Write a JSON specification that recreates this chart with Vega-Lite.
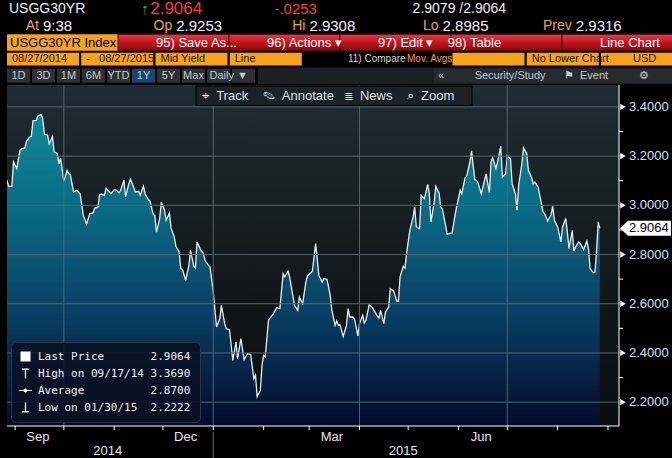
{
  "$schema": "https://vega.github.io/schema/vega-lite/v6.json",
  "background": "#000000",
  "padding": {"left": 6, "top": 0, "right": 0, "bottom": 0},
  "spacing": 0,
  "config": {
    "view": {"stroke": null},
    "font": "Liberation Sans",
    "legend": {"labelFont": "DejaVu Sans Mono"}
  },
  "resolve": {"scale": {"shape": "independent", "color": "independent", "fill": "independent"}, "legend": {"shape": "independent"}},
  "datasets": {
    "series": [
      {"date": "2014-08-27", "v": 3.102}, {"date": "2014-08-28", "v": 3.077}, {"date": "2014-08-30", "v": 3.077}, {"date": "2014-08-31", "v": 3.176},
      {"date": "2014-09-02", "v": 3.149}, {"date": "2014-09-04", "v": 3.224}, {"date": "2014-09-05", "v": 3.230}, {"date": "2014-09-07", "v": 3.233},
      {"date": "2014-09-08", "v": 3.260}, {"date": "2014-09-10", "v": 3.278}, {"date": "2014-09-11", "v": 3.280}, {"date": "2014-09-12", "v": 3.343},
      {"date": "2014-09-14", "v": 3.345}, {"date": "2014-09-15", "v": 3.363}, {"date": "2014-09-17", "v": 3.369}, {"date": "2014-09-18", "v": 3.352},
      {"date": "2014-09-19", "v": 3.289}, {"date": "2014-09-21", "v": 3.285}, {"date": "2014-09-22", "v": 3.250}, {"date": "2014-09-24", "v": 3.280},
      {"date": "2014-09-25", "v": 3.217}, {"date": "2014-09-27", "v": 3.210}, {"date": "2014-09-28", "v": 3.169}, {"date": "2014-09-29", "v": 3.192},
      {"date": "2014-10-01", "v": 3.098}, {"date": "2014-10-03", "v": 3.142}, {"date": "2014-10-04", "v": 3.128}, {"date": "2014-10-05", "v": 3.124},
      {"date": "2014-10-07", "v": 3.054}, {"date": "2014-10-09", "v": 3.061}, {"date": "2014-10-11", "v": 3.047}, {"date": "2014-10-13", "v": 2.959},
      {"date": "2014-10-15", "v": 2.923}, {"date": "2014-10-16", "v": 2.946}, {"date": "2014-10-17", "v": 2.966}, {"date": "2014-10-19", "v": 2.969},
      {"date": "2014-10-20", "v": 2.989}, {"date": "2014-10-22", "v": 2.993}, {"date": "2014-10-23", "v": 3.043}, {"date": "2014-10-24", "v": 3.045},
      {"date": "2014-10-26", "v": 3.041}, {"date": "2014-10-27", "v": 3.070}, {"date": "2014-10-30", "v": 3.047}, {"date": "2014-11-01", "v": 3.063},
      {"date": "2014-11-02", "v": 3.063}, {"date": "2014-11-04", "v": 3.051}, {"date": "2014-11-05", "v": 3.061}, {"date": "2014-11-07", "v": 3.102},
      {"date": "2014-11-08", "v": 3.034}, {"date": "2014-11-10", "v": 3.088}, {"date": "2014-11-11", "v": 3.106}, {"date": "2014-11-13", "v": 3.074},
      {"date": "2014-11-14", "v": 3.054}, {"date": "2014-11-16", "v": 3.057}, {"date": "2014-11-17", "v": 3.041}, {"date": "2014-11-19", "v": 3.078},
      {"date": "2014-11-20", "v": 3.047}, {"date": "2014-11-22", "v": 3.023}, {"date": "2014-11-23", "v": 3.017}, {"date": "2014-11-25", "v": 2.963},
      {"date": "2014-11-26", "v": 2.959}, {"date": "2014-11-27", "v": 2.891}, {"date": "2014-11-29", "v": 2.946}, {"date": "2014-11-30", "v": 3.013},
      {"date": "2014-12-02", "v": 2.980}, {"date": "2014-12-03", "v": 2.939}, {"date": "2014-12-05", "v": 2.969}, {"date": "2014-12-06", "v": 2.908},
      {"date": "2014-12-08", "v": 2.871}, {"date": "2014-12-09", "v": 2.833}, {"date": "2014-12-11", "v": 2.810}, {"date": "2014-12-12", "v": 2.742},
      {"date": "2014-12-13", "v": 2.740}, {"date": "2014-12-15", "v": 2.695}, {"date": "2014-12-17", "v": 2.756}, {"date": "2014-12-18", "v": 2.817},
      {"date": "2014-12-20", "v": 2.752}, {"date": "2014-12-21", "v": 2.745}, {"date": "2014-12-22", "v": 2.851}, {"date": "2014-12-24", "v": 2.822},
      {"date": "2014-12-26", "v": 2.803}, {"date": "2014-12-27", "v": 2.775}, {"date": "2014-12-29", "v": 2.756}, {"date": "2014-12-30", "v": 2.749},
      {"date": "2015-01-01", "v": 2.648}, {"date": "2015-01-03", "v": 2.505}, {"date": "2015-01-05", "v": 2.539}, {"date": "2015-01-06", "v": 2.593},
      {"date": "2015-01-08", "v": 2.519}, {"date": "2015-01-09", "v": 2.498}, {"date": "2015-01-11", "v": 2.494}, {"date": "2015-01-13", "v": 2.370},
      {"date": "2015-01-15", "v": 2.444}, {"date": "2015-01-16", "v": 2.376}, {"date": "2015-01-18", "v": 2.458}, {"date": "2015-01-20", "v": 2.372},
      {"date": "2015-01-22", "v": 2.397}, {"date": "2015-01-24", "v": 2.394}, {"date": "2015-01-26", "v": 2.295}, {"date": "2015-01-27", "v": 2.309},
      {"date": "2015-01-28", "v": 2.2222}, {"date": "2015-01-30", "v": 2.248}, {"date": "2015-01-31", "v": 2.350}, {"date": "2015-02-01", "v": 2.390},
      {"date": "2015-02-02", "v": 2.383}, {"date": "2015-02-04", "v": 2.533}, {"date": "2015-02-07", "v": 2.559}, {"date": "2015-02-09", "v": 2.584},
      {"date": "2015-02-11", "v": 2.580}, {"date": "2015-02-13", "v": 2.722}, {"date": "2015-02-14", "v": 2.709}, {"date": "2015-02-16", "v": 2.732},
      {"date": "2015-02-17", "v": 2.709}, {"date": "2015-02-20", "v": 2.593}, {"date": "2015-02-22", "v": 2.573}, {"date": "2015-02-23", "v": 2.627},
      {"date": "2015-02-25", "v": 2.600}, {"date": "2015-02-27", "v": 2.688}, {"date": "2015-02-28", "v": 2.713}, {"date": "2015-03-03", "v": 2.732},
      {"date": "2015-03-05", "v": 2.844}, {"date": "2015-03-06", "v": 2.783}, {"date": "2015-03-07", "v": 2.715}, {"date": "2015-03-09", "v": 2.688},
      {"date": "2015-03-10", "v": 2.702}, {"date": "2015-03-12", "v": 2.699}, {"date": "2015-03-14", "v": 2.634}, {"date": "2015-03-15", "v": 2.573},
      {"date": "2015-03-17", "v": 2.512}, {"date": "2015-03-18", "v": 2.530}, {"date": "2015-03-19", "v": 2.512}, {"date": "2015-03-20", "v": 2.515},
      {"date": "2015-03-22", "v": 2.467}, {"date": "2015-03-24", "v": 2.512}, {"date": "2015-03-25", "v": 2.580}, {"date": "2015-03-26", "v": 2.546},
      {"date": "2015-03-28", "v": 2.546}, {"date": "2015-03-29", "v": 2.537}, {"date": "2015-03-31", "v": 2.469}, {"date": "2015-04-01", "v": 2.519},
      {"date": "2015-04-03", "v": 2.553}, {"date": "2015-04-04", "v": 2.522}, {"date": "2015-04-05", "v": 2.533}, {"date": "2015-04-07", "v": 2.596},
      {"date": "2015-04-09", "v": 2.584}, {"date": "2015-04-10", "v": 2.573}, {"date": "2015-04-12", "v": 2.550}, {"date": "2015-04-13", "v": 2.542},
      {"date": "2015-04-14", "v": 2.573}, {"date": "2015-04-16", "v": 2.519}, {"date": "2015-04-17", "v": 2.566}, {"date": "2015-04-19", "v": 2.587},
      {"date": "2015-04-20", "v": 2.661}, {"date": "2015-04-22", "v": 2.652}, {"date": "2015-04-24", "v": 2.610}, {"date": "2015-04-25", "v": 2.610},
      {"date": "2015-04-26", "v": 2.709}, {"date": "2015-04-28", "v": 2.753}, {"date": "2015-04-29", "v": 2.745}, {"date": "2015-04-30", "v": 2.803},
      {"date": "2015-05-02", "v": 2.898}, {"date": "2015-05-04", "v": 2.952}, {"date": "2015-05-05", "v": 2.993}, {"date": "2015-05-06", "v": 2.912},
      {"date": "2015-05-08", "v": 2.905}, {"date": "2015-05-09", "v": 3.041}, {"date": "2015-05-11", "v": 3.027}, {"date": "2015-05-13", "v": 3.085},
      {"date": "2015-05-14", "v": 3.047}, {"date": "2015-05-15", "v": 2.932}, {"date": "2015-05-17", "v": 3.013}, {"date": "2015-05-18", "v": 3.077},
      {"date": "2015-05-20", "v": 3.050}, {"date": "2015-05-21", "v": 2.993}, {"date": "2015-05-22", "v": 2.986}, {"date": "2015-05-24", "v": 2.919},
      {"date": "2015-05-25", "v": 2.882}, {"date": "2015-05-27", "v": 2.887}, {"date": "2015-05-28", "v": 2.887}, {"date": "2015-05-30", "v": 2.966},
      {"date": "2015-06-02", "v": 3.061}, {"date": "2015-06-03", "v": 3.047}, {"date": "2015-06-05", "v": 3.112}, {"date": "2015-06-06", "v": 3.118},
      {"date": "2015-06-08", "v": 3.176}, {"date": "2015-06-09", "v": 3.221}, {"date": "2015-06-11", "v": 3.104}, {"date": "2015-06-12", "v": 3.102},
      {"date": "2015-06-13", "v": 3.091}, {"date": "2015-06-15", "v": 3.047}, {"date": "2015-06-17", "v": 3.102}, {"date": "2015-06-18", "v": 3.128},
      {"date": "2015-06-20", "v": 3.050}, {"date": "2015-06-21", "v": 3.176}, {"date": "2015-06-22", "v": 3.194}, {"date": "2015-06-24", "v": 3.149},
      {"date": "2015-06-25", "v": 3.176}, {"date": "2015-06-27", "v": 3.240}, {"date": "2015-06-28", "v": 3.115}, {"date": "2015-06-30", "v": 3.128},
      {"date": "2015-07-01", "v": 3.203}, {"date": "2015-07-03", "v": 3.187}, {"date": "2015-07-04", "v": 3.088}, {"date": "2015-07-06", "v": 3.047},
      {"date": "2015-07-07", "v": 2.980}, {"date": "2015-07-08", "v": 3.081}, {"date": "2015-07-10", "v": 3.169}, {"date": "2015-07-11", "v": 3.234},
      {"date": "2015-07-13", "v": 3.210}, {"date": "2015-07-14", "v": 3.142}, {"date": "2015-07-16", "v": 3.112}, {"date": "2015-07-17", "v": 3.088},
      {"date": "2015-07-18", "v": 3.095}, {"date": "2015-07-20", "v": 3.074}, {"date": "2015-07-21", "v": 3.041}, {"date": "2015-07-23", "v": 2.973},
      {"date": "2015-07-24", "v": 2.966}, {"date": "2015-07-26", "v": 2.936}, {"date": "2015-07-28", "v": 2.963}, {"date": "2015-07-29", "v": 2.996},
      {"date": "2015-07-30", "v": 2.939}, {"date": "2015-08-01", "v": 2.912}, {"date": "2015-08-03", "v": 2.851}, {"date": "2015-08-04", "v": 2.912},
      {"date": "2015-08-06", "v": 2.946}, {"date": "2015-08-07", "v": 2.891}, {"date": "2015-08-08", "v": 2.824}, {"date": "2015-08-10", "v": 2.898},
      {"date": "2015-08-11", "v": 2.814}, {"date": "2015-08-12", "v": 2.830}, {"date": "2015-08-14", "v": 2.851}, {"date": "2015-08-15", "v": 2.844},
      {"date": "2015-08-17", "v": 2.820}, {"date": "2015-08-19", "v": 2.855}, {"date": "2015-08-20", "v": 2.824}, {"date": "2015-08-21", "v": 2.742},
      {"date": "2015-08-23", "v": 2.726}, {"date": "2015-08-24", "v": 2.729}, {"date": "2015-08-25", "v": 2.817}, {"date": "2015-08-26", "v": 2.932},
      {"date": "2015-08-27", "v": 2.9064}
    ],
    "stats": [
      {"stat": "Last Price", "value": 2.9064, "date": "2015-08-27"},
      {"stat": "High on 09/17/14", "value": 3.369, "date": "2014-09-17"},
      {"stat": "Average", "value": 2.87, "date": null},
      {"stat": "Low on 01/30/15", "value": 2.2222, "date": "2015-01-30"}
    ],
    "yticks": [{"v": 2.2}, {"v": 2.4}, {"v": 2.6}, {"v": 2.8}, {"v": 3.0}, {"v": 3.2}, {"v": 3.4}],
    "yminor": [{"v": 2.3}, {"v": 2.5}, {"v": 2.7}, {"v": 2.9}, {"v": 3.1}, {"v": 3.3}],
    "xgrid": [{"date": "2014-10-01"}, {"date": "2015-01-01"}, {"date": "2015-04-01"}, {"date": "2015-07-01"}],
    "mticks": [
      {"date": "2014-09-01"}, {"date": "2014-10-01"}, {"date": "2014-11-01"}, {"date": "2014-12-01"}, {"date": "2015-01-01"}, {"date": "2015-02-01"},
      {"date": "2015-03-01"}, {"date": "2015-04-01"}, {"date": "2015-05-01"}, {"date": "2015-06-01"}, {"date": "2015-07-01"}, {"date": "2015-08-01"}, {"date": "2015-09-01"}
    ],
    "mlabels": [{"m": "Sep", "date": "2014-09-15"}, {"m": "Dec", "date": "2014-12-15"}, {"m": "Mar", "date": "2015-03-15"}, {"m": "Jun", "date": "2015-06-15"}],
    "years": [{"yr": "2014", "date": "2014-10-28"}, {"yr": "2015", "date": "2015-04-28"}]
  },
  "vconcat": [
    {
      "width": 666,
      "height": 83,
      "resolve": {"scale": {"x": "independent"}},
      "layer": [
        {
          "data": {"values": [{"row": "r5", "k": "strip"}]},
          "mark": {"type": "rect", "color": "#1c2024"},
          "encoding": {
            "x": {"field": "k", "type": "nominal", "axis": null, "scale": {"domain": ["strip"], "paddingInner": 0, "paddingOuter": 0.3024, "align": 1}},
            "y": {"field": "row", "type": "nominal", "axis": null, "scale": {"domain": ["r1", "r2", "r3", "r4", "r5"], "paddingInner": 0, "paddingOuter": 0}}
          }
        },
        {
          "data": {"values": [
            {"row": "r1", "slot": "a", "t": "USGG30YR", "kind": "tick"},
            {"row": "r1", "slot": "b", "t": "↑", "kind": "up"},
            {"row": "r1", "slot": "b", "t": "2.9064", "kind": "last"},
            {"row": "r1", "slot": "c", "t": "-.0253", "kind": "chg"},
            {"row": "r1", "slot": "d", "t": "2.9079 /2.9064", "kind": "bid"},
            {"row": "r2", "slot": "a", "t": "At", "kind": "lab"},
            {"row": "r2", "slot": "a", "t": "9:38", "kind": "val"},
            {"row": "r2", "slot": "b", "t": "Op", "kind": "lab"},
            {"row": "r2", "slot": "b", "t": "2.9253", "kind": "val"},
            {"row": "r2", "slot": "c", "t": "Hi", "kind": "lab"},
            {"row": "r2", "slot": "c", "t": "2.9308", "kind": "val"},
            {"row": "r2", "slot": "d", "t": "Lo", "kind": "lab"},
            {"row": "r2", "slot": "d", "t": "2.8985", "kind": "val"},
            {"row": "r2", "slot": "e", "t": "Prev", "kind": "lab"},
            {"row": "r2", "slot": "e", "t": "2.9316", "kind": "val"}
          ]},
          "encoding": {
            "x": {"field": "slot", "type": "nominal", "axis": null, "bandPosition": 0, "scale": {"domain": ["a", "b", "c", "d", "e"], "paddingInner": 0, "paddingOuter": 0.671, "align": 0}},
            "y": {"field": "row", "type": "nominal", "axis": null, "scale": {"domain": ["r1", "r2", "r3", "r4", "r5"], "paddingInner": 0, "paddingOuter": 0}},
            "text": {"field": "t", "type": "nominal"}
          },
          "layer": [
            {"transform": [{"filter": "datum.kind == 'tick'"}], "mark": {"type": "text", "align": "left", "dx": 2, "fontSize": 14, "color": "#f2f2f2"}},
            {"transform": [{"filter": "datum.kind == 'bid'"}], "mark": {"type": "text", "align": "left", "dx": 6, "fontSize": 14, "color": "#f2f2f2"}},
            {"transform": [{"filter": "datum.kind == 'up'"}], "mark": {"type": "text", "align": "left", "dx": 1, "fontSize": 15, "fontWeight": "bold", "color": "#3cc43c"}},
            {"transform": [{"filter": "datum.kind == 'last'"}], "mark": {"type": "text", "align": "left", "dx": 10, "fontSize": 17, "color": "#ff3a3a"}},
            {"transform": [{"filter": "datum.kind == 'chg'"}], "mark": {"type": "text", "align": "left", "dx": 1, "fontSize": 15, "color": "#ff3a3a"}},
            {"transform": [{"filter": "datum.kind == 'lab'"}], "mark": {"type": "text", "align": "right", "dx": 32, "fontSize": 14, "color": "#f0a43c"}},
            {"transform": [{"filter": "datum.kind == 'val'"}], "mark": {"type": "text", "align": "left", "dx": 36, "fontSize": 15, "color": "#f2f2f2"}}
          ]
        },
        {
          "data": {"values": [
            {"row": "r3", "item": "i0", "t": "USGG30YR Index", "kind": "o"},
            {"row": "r3", "item": "i1", "t": "95) Save As...", "kind": "r"},
            {"row": "r3", "item": "i2", "t": "96) Actions ▾", "kind": "r"},
            {"row": "r3", "item": "i3", "t": "97) Edit ▾\u00a0\u00a0\u00a0\u00a098) Table", "kind": "r"},
            {"row": "r3", "item": "i4", "t": "", "kind": "r"},
            {"row": "r3", "item": "i5", "t": "Line Chart", "kind": "r"}
          ]},
          "encoding": {
            "x": {"field": "item", "type": "nominal", "axis": null, "bandPosition": 0, "scale": {"domain": ["i0", "i1", "i2", "i3", "i4", "i5"], "paddingInner": 0, "paddingOuter": 0}},
            "y": {"field": "row", "type": "nominal", "axis": null, "scale": {"domain": ["r1", "r2", "r3", "r4", "r5"], "paddingInner": 0, "paddingOuter": 0}}
          },
          "layer": [
            {"transform": [{"filter": "datum.kind == 'o'"}], "mark": {"type": "rect", "color": "#f7a21b"}},
            {"transform": [{"filter": "datum.kind == 'r'"}], "mark": {"type": "rect", "stroke": "#4a080c", "strokeWidth": 1, "fill": {"gradient": "linear", "x1": 0, "y1": 0, "x2": 0, "y2": 1, "stops": [{"offset": 0, "color": "#e83a42"}, {"offset": 0.5, "color": "#c2161f"}, {"offset": 1, "color": "#7e0a10"}]}}},
            {"transform": [{"filter": "datum.kind == 'o'"}], "mark": {"type": "text", "align": "left", "dx": 3, "fontSize": 13, "color": "#000000"}, "encoding": {"text": {"field": "t", "type": "nominal"}}},
            {"transform": [{"filter": "datum.kind == 'r'"}], "mark": {"type": "text", "align": "left", "dx": 38, "fontSize": 13, "color": "#ffffff"}, "encoding": {"text": {"field": "t", "type": "nominal"}}}
          ]
        },
        {
          "data": {"values": [
            {"row": "r4", "item": "i0", "t": "08/27/2014", "kind": "o"},
            {"row": "r4", "item": "i1", "t": "-\u00a0\u00a0\u00a008/27/2015", "kind": "o"},
            {"row": "r4", "item": "i2", "t": "Mid Yield", "kind": "o"},
            {"row": "r4", "item": "i3", "t": "Line", "kind": "o"},
            {"row": "r4", "item": "i4", "t": "11) Compare", "kind": "w"},
            {"row": "r4", "item": "i4", "t": "Mov. Avgs", "kind": "y"},
            {"row": "r4", "item": "i6", "t": "", "kind": "o"},
            {"row": "r4", "item": "i7", "t": "No Lower Chart", "kind": "o"},
            {"row": "r4", "item": "i8", "t": "USD", "kind": "u"}
          ]},
          "encoding": {
            "x": {"field": "item", "type": "nominal", "axis": null, "bandPosition": 0, "scale": {"domain": ["i0", "i1", "i2", "i3", "i4", "i5", "i6", "i7", "i8"], "paddingInner": 0.03, "paddingOuter": 0}},
            "y": {"field": "row", "type": "nominal", "axis": null, "scale": {"domain": ["r1", "r2", "r3", "r4", "r5"], "paddingInner": 0, "paddingOuter": 0}},
            "text": {"field": "t", "type": "nominal"}
          },
          "layer": [
            {"transform": [{"filter": "datum.kind == 'o' || datum.kind == 'u'"}], "mark": {"type": "rect", "color": "#f7a21b", "height": {"band": 0.78}}},
            {"transform": [{"filter": "datum.kind == 'o'"}], "mark": {"type": "text", "align": "left", "dx": 5, "fontSize": 11, "color": "#1a1200"}},
            {"transform": [{"filter": "datum.kind == 'u'"}], "mark": {"type": "text", "align": "left", "dx": 32, "fontSize": 11, "color": "#1a1200"}},
            {"transform": [{"filter": "datum.kind == 'w'"}], "mark": {"type": "text", "align": "left", "dx": 44, "fontSize": 10, "color": "#d0d4d8"}},
            {"transform": [{"filter": "datum.kind == 'y'"}], "mark": {"type": "text", "align": "left", "dx": 103, "fontSize": 10, "color": "#f0a030"}}
          ]
        },
        {
          "data": {"values": [
            {"row": "r5", "item": "b0", "t": "1D", "kind": "btn"},
            {"row": "r5", "item": "b1", "t": "3D", "kind": "btn"},
            {"row": "r5", "item": "b2", "t": "1M", "kind": "btn"},
            {"row": "r5", "item": "b3", "t": "6M", "kind": "btn"},
            {"row": "r5", "item": "b4", "t": "YTD", "kind": "btn"},
            {"row": "r5", "item": "b5", "t": "1Y", "kind": "sel"},
            {"row": "r5", "item": "b6", "t": "5Y", "kind": "btn"},
            {"row": "r5", "item": "b7", "t": "Max", "kind": "btn"},
            {"row": "r5", "item": "b8", "t": "Daily ▼", "kind": "daily"},
            {"row": "r5", "item": "b9", "t": "", "kind": "btn"}
          ]},
          "encoding": {
            "x": {"field": "item", "type": "nominal", "axis": null, "scale": {"domain": ["b0", "b1", "b2", "b3", "b4", "b5", "b6", "b7", "b8", "b9", "f10", "f11", "f12", "f13", "f14", "f15", "f16", "f17", "f18", "f19", "f20", "f21", "f22", "f23", "f24", "f25"], "paddingInner": 0.08, "paddingOuter": 0.36, "align": 0}},
            "y": {"field": "row", "type": "nominal", "axis": null, "scale": {"domain": ["r1", "r2", "r3", "r4", "r5"], "paddingInner": 0, "paddingOuter": 0}},
            "text": {"field": "t", "type": "nominal"}
          },
          "layer": [
            {"transform": [{"filter": "datum.kind != 'sel'"}], "mark": {"type": "rect", "color": "#2c3135", "height": {"band": 0.85}}},
            {"transform": [{"filter": "datum.kind == 'sel'"}], "mark": {"type": "rect", "color": "#1b456f", "height": {"band": 0.85}}},
            {"transform": [{"filter": "datum.kind == 'btn'"}], "mark": {"type": "text", "align": "center", "fontSize": 11, "color": "#c4cad0"}},
            {"transform": [{"filter": "datum.kind == 'sel'"}], "mark": {"type": "text", "align": "center", "fontSize": 11, "color": "#a8d8ff"}},
            {"transform": [{"filter": "datum.kind == 'daily'"}], "mark": {"type": "text", "align": "left", "dx": -9, "fontSize": 11, "color": "#c4cad0"}}
          ]
        },
        {
          "data": {"values": [{"row": "r5", "item": "r", "t": "«\u00a0\u00a0\u00a0\u00a0\u00a0\u00a0\u00a0\u00a0\u00a0\u00a0Security/Study\u00a0\u00a0\u00a0\u00a0\u00a0\u00a0\u2691\u00a0\u00a0Event\u00a0\u00a0\u00a0\u00a0\u00a0\u00a0\u00a0\u00a0\u00a0\u00a0\u2699"}]},
          "encoding": {
            "x": {"field": "item", "type": "nominal", "axis": null, "bandPosition": 0, "scale": {"domain": ["r"], "paddingInner": 0, "paddingOuter": 0.893, "align": 1}},
            "y": {"field": "row", "type": "nominal", "axis": null, "scale": {"domain": ["r1", "r2", "r3", "r4", "r5"], "paddingInner": 0, "paddingOuter": 0}}
          },
          "layer": [
            {"mark": {"type": "rect", "color": "#262b2f", "height": {"band": 0.85}}},
            {"mark": {"type": "text", "align": "left", "dx": 4, "fontSize": 11, "color": "#c4cad0"}, "encoding": {"text": {"field": "t", "type": "nominal"}}}
          ]
        }
      ]
    },
    {
      "width": 612,
      "height": 341,
      "layer": [
        {
          "data": {"values": [{"bg": "plot"}]},
          "mark": {"type": "rect", "fill": {"gradient": "linear", "x1": 0, "y1": 0, "x2": 0, "y2": 1, "stops": [{"offset": 0, "color": "#1f2d34"}, {"offset": 0.5, "color": "#131a1d"}, {"offset": 1, "color": "#0a0d0e"}]}},
          "encoding": {
            "x": {"datum": {"year": 2014, "month": 8, "date": 27, "utc": true}, "type": "temporal", "axis": null,
              "scale": {"type": "utc", "domain": [{"year": 2014, "month": 8, "date": 27, "utc": true}, {"year": 2015, "month": 9, "date": 7, "hours": 19, "utc": true}]}},
            "x2": {"datum": {"year": 2015, "month": 9, "date": 7, "hours": 19, "utc": true}},
            "y": {"datum": 3.489, "type": "quantitative", "axis": null, "scale": {"domain": [2.103, 3.489], "zero": false, "nice": false}},
            "y2": {"datum": 2.103}
          }
        },
        {
          "data": {"name": "series"},
          "mark": {"type": "area", "clip": true, "fill": {"gradient": "linear", "x1": 0, "y1": 0, "x2": 0, "y2": 1, "stops": [{"offset": 0, "color": "#0d8a9d"}, {"offset": 0.3, "color": "#0a6b85"}, {"offset": 0.65, "color": "#093d62"}, {"offset": 1, "color": "#050a2c"}]}},
          "encoding": {
            "x": {"field": "date", "type": "temporal", "axis": null},
            "y": {"field": "v", "type": "quantitative", "axis": null},
            "y2": {"datum": 2.103}
          }
        },
        {
          "data": {"name": "series"},
          "mark": {"type": "line", "color": "#e8eef0", "strokeWidth": 1.3, "clip": true},
          "encoding": {
            "x": {"field": "date", "type": "temporal", "axis": null},
            "y": {"field": "v", "type": "quantitative", "axis": null}
          }
        },
        {
          "data": {"name": "xgrid"},
          "mark": {"type": "rule", "color": "#56636a", "strokeWidth": 1},
          "encoding": {
            "x": {"field": "date", "type": "temporal", "axis": null},
            "y": {"datum": 3.489, "type": "quantitative", "axis": null},
            "y2": {"datum": 2.103}
          }
        },
        {
          "data": {"name": "yticks"},
          "mark": {"type": "rule", "color": "#56636a", "strokeWidth": 1},
          "encoding": {
            "x": {"datum": {"year": 2014, "month": 8, "date": 27, "utc": true}, "type": "temporal", "axis": null},
            "x2": {"datum": {"year": 2015, "month": 9, "date": 7, "hours": 19, "utc": true}},
            "y": {"field": "v", "type": "quantitative", "axis": null}
          }
        },
        {
          "data": {"values": [{"line": "xdomain"}]},
          "mark": {"type": "rule", "color": "#ffffff", "strokeWidth": 1},
          "encoding": {
            "x": {"datum": {"year": 2014, "month": 8, "date": 27, "utc": true}, "type": "temporal", "axis": null},
            "x2": {"datum": {"year": 2015, "month": 9, "date": 7, "hours": 19, "utc": true}},
            "y": {"datum": 2.103, "type": "quantitative", "axis": null}
          }
        },
        {
          "data": {"values": [{"line": "ydomain"}]},
          "mark": {"type": "rule", "color": "#ffffff", "strokeWidth": 1},
          "encoding": {
            "x": {"datum": {"year": 2015, "month": 9, "date": 7, "hours": 19, "utc": true}, "type": "temporal", "axis": null},
            "y": {"datum": 3.489, "type": "quantitative", "axis": null},
            "y2": {"datum": 2.103}
          }
        },
        {
          "data": {"name": "mticks"},
          "mark": {"type": "rule", "color": "#ffffff", "strokeWidth": 1},
          "encoding": {
            "x": {"field": "date", "type": "temporal", "axis": null},
            "y": {"datum": 2.103, "type": "quantitative", "axis": null},
            "y2": {"datum": 2.0867}
          }
        },
        {
          "data": {"name": "yminor"},
          "mark": {"type": "rule", "color": "#ffffff", "strokeWidth": 1},
          "encoding": {
            "x": {"datum": {"year": 2015, "month": 9, "date": 7, "hours": 19, "utc": true}, "type": "temporal", "axis": null},
            "x2": {"datum": {"year": 2015, "month": 9, "date": 10, "hours": 6, "utc": true}},
            "y": {"field": "v", "type": "quantitative", "axis": null}
          }
        },
        {
          "data": {"name": "mlabels"},
          "mark": {"type": "text", "align": "center", "baseline": "middle", "fontSize": 13, "color": "#e2e8ee"},
          "encoding": {
            "x": {"field": "date", "type": "temporal", "axis": null},
            "y": {"datum": 2.058, "type": "quantitative", "axis": null},
            "text": {"field": "m", "type": "nominal"}
          }
        },
        {
          "data": {"name": "yticks"},
          "mark": {"type": "text", "align": "left", "baseline": "middle", "dx": 10, "fontSize": 13, "color": "#d4e4fa"},
          "encoding": {
            "x": {"datum": {"year": 2015, "month": 9, "date": 7, "hours": 19, "utc": true}, "type": "temporal", "axis": null},
            "y": {"field": "v", "type": "quantitative", "axis": null},
            "text": {"field": "v", "type": "quantitative", "format": ".4f"}
          }
        },
        {
          "data": {"name": "stats"},
          "mark": {"type": "point", "opacity": 0, "filled": true, "color": "#ffffff"},
          "encoding": {
            "x": {"field": "date", "type": "temporal", "axis": null},
            "y": {"field": "value", "type": "quantitative", "axis": null},
            "shape": {"field": "stat", "type": "nominal",
              "scale": {"domain": ["Last Price", "High on 09/17/14", "Average", "Low on 01/30/15"],
                "range": [
                  "M-1,-1L1,-1L1,1L-1,1Z",
                  "M-0.7,-1L0.7,-1L0.7,-0.76L0.13,-0.76L0.13,1L-0.13,1L-0.13,-0.76L-0.7,-0.76Z",
                  "M-1.3,-0.12L1.3,-0.12L1.3,0.12L-1.3,0.12Z M0.4,0A0.4,0.4 0 1 1 -0.4,0A0.4,0.4 0 1 1 0.4,0Z",
                  "M-0.13,-1L0.13,-1L0.13,0.76L0.7,0.76L0.7,1L-0.7,1L-0.7,0.76L-0.13,0.76Z"
                ]},
              "legend": {"title": null, "orient": "bottom-left", "offset": 4, "padding": 9, "cornerRadius": 5,
                "fillColor": "rgba(9,17,34,0.85)", "strokeColor": "#2c3440",
                "symbolSize": 100, "symbolOpacity": 1, "symbolFillColor": "#ffffff", "symbolStrokeWidth": 0,
                "labelFont": "DejaVu Sans Mono", "labelFontSize": 11, "labelColor": "#f2f2f2", "labelLimit": 300, "labelOffset": 7, "rowPadding": 5,
                "labelExpr": "datum.label == 'Last Price' ? 'Last\u00a0Price\u00a0\u00a0\u00a0\u00a0\u00a0\u00a0\u00a02.9064' : datum.label == 'Average' ? 'Average\u00a0\u00a0\u00a0\u00a0\u00a0\u00a0\u00a0\u00a0\u00a0\u00a02.8700' : datum.label == 'High on 09/17/14' ? 'High\u00a0on\u00a009/17/14\u00a03.3690' : 'Low\u00a0on\u00a001/30/15\u00a0\u00a02.2222'"}}
          }
        },
        {
          "data": {"name": "yticks"},
          "mark": {"type": "point", "shape": "triangle-right", "filled": true, "color": "#ffffff", "size": 40, "opacity": 1, "xOffset": 4},
          "encoding": {
            "x": {"datum": {"year": 2015, "month": 9, "date": 7, "hours": 19, "utc": true}, "type": "temporal", "axis": null},
            "y": {"field": "v", "type": "quantitative", "axis": null}
          }
        },
        {
          "data": {"name": "stats"},
          "transform": [{"filter": "datum.stat == 'Last Price'"}],
          "encoding": {
            "x": {"datum": {"year": 2015, "month": 9, "date": 7, "hours": 19, "utc": true}, "type": "temporal", "axis": null},
            "y": {"field": "value", "type": "quantitative", "axis": null}
          },
          "layer": [
            {"mark": {"type": "point", "shape": "M0.1,0L0.9,-0.75L5.2,-0.75L5.2,0.75L0.9,0.75Z", "size": 400, "filled": true, "color": "#ffffff", "opacity": 1}},
            {"mark": {"type": "text", "align": "left", "dx": 10, "fontSize": 13, "color": "#000000"}, "encoding": {"text": {"field": "value", "type": "quantitative", "format": ".4f"}}}
          ]
        },
        {
          "data": {"values": [{"t": "\u2316\u00a0\u00a0Track\u00a0\u00a0\u00a0\u00a0\u270e\u00a0\u00a0Annotate\u00a0\u00a0\u00a0\u2263\u00a0\u00a0News\u00a0\u00a0\u00a0\u00a0\u2315\u00a0\u00a0Zoom"}]},
          "layer": [
            {"mark": {"type": "rect", "color": "#1b2329", "stroke": "#000000", "strokeWidth": 1},
             "encoding": {
               "x": {"datum": {"year": 2014, "month": 12, "date": 21, "hours": 9, "utc": true}, "type": "temporal", "axis": null},
               "x2": {"datum": {"year": 2015, "month": 6, "date": 9, "hours": 7, "utc": true}},
               "y": {"datum": 3.485, "type": "quantitative", "axis": null},
               "y2": {"datum": 3.406}}},
            {"mark": {"type": "text", "align": "left", "fontSize": 13, "color": "#dde2e6"},
             "encoding": {
               "x": {"datum": {"year": 2014, "month": 12, "date": 25, "utc": true}, "type": "temporal", "axis": null},
               "y": {"datum": 3.4455, "type": "quantitative", "axis": null},
               "text": {"field": "t", "type": "nominal"}}}
          ]
        },
        {
          "data": {"name": "years"},
          "mark": {"type": "text", "align": "center", "baseline": "middle", "fontSize": 13, "color": "#e2e8ee"},
          "encoding": {
            "x": {"field": "date", "type": "temporal", "axis": null},
            "y": {"datum": 2.0, "type": "quantitative", "axis": null},
            "text": {"field": "yr", "type": "nominal"}
          }
        },
        {
          "data": {"values": [{"sep": "year"}]},
          "mark": {"type": "rule", "color": "#6a7078", "strokeWidth": 1},
          "encoding": {
            "x": {"datum": {"year": 2015, "month": 1, "date": 1, "utc": true}, "type": "temporal", "axis": null},
            "y": {"datum": 2.079, "type": "quantitative", "axis": null},
            "y2": {"datum": 1.964}
          }
        }
      ]
    }
  ]
}
